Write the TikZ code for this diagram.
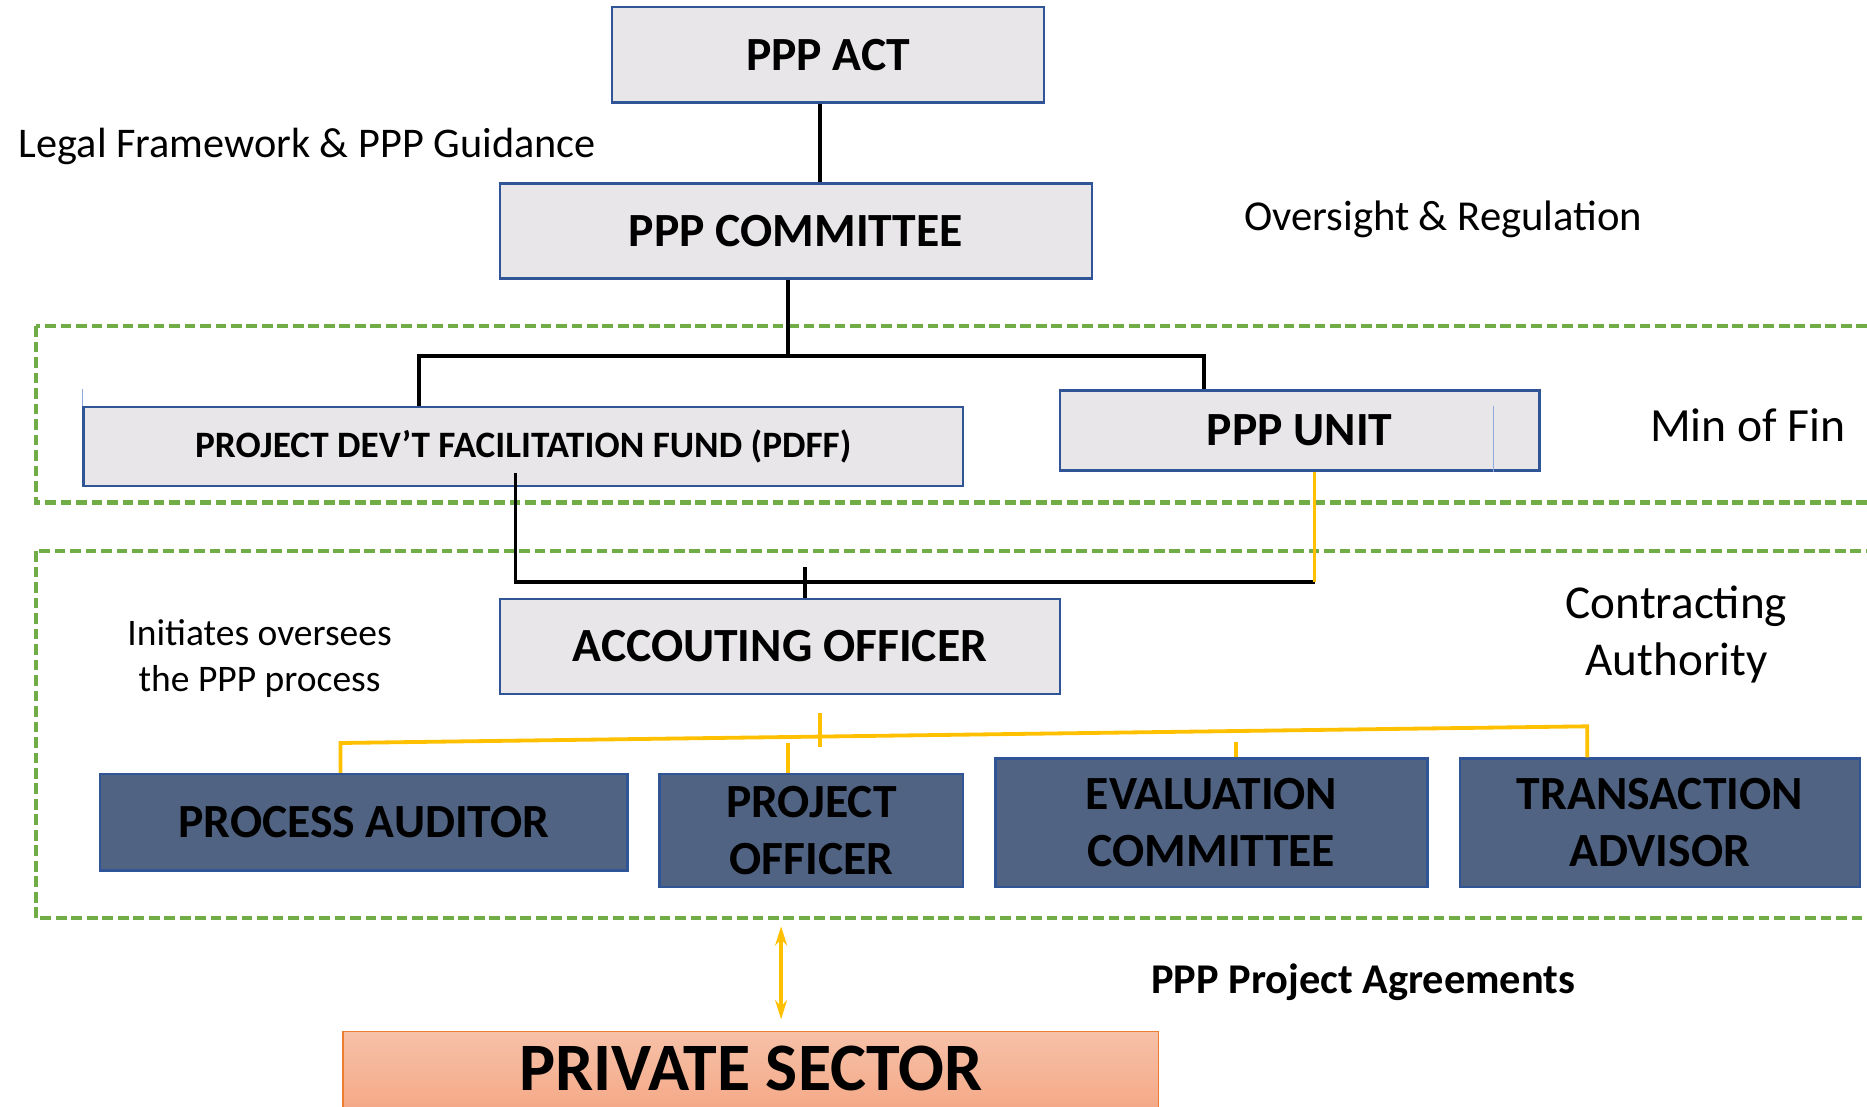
\documentclass[tikz,border=0pt]{standalone}
\usepackage{fontspec}
\setmainfont{Carlito}
\usetikzlibrary{arrows.meta,calc}
\definecolor{boxblue}{HTML}{2F5597}
\definecolor{boxgray}{HTML}{E8E6E8}
\definecolor{darkbox}{HTML}{506383}
\definecolor{ggreen}{HTML}{70AD47}
\definecolor{yel}{HTML}{FFC000}
\definecolor{ptop}{HTML}{F6C1A8}
\definecolor{pbot}{HTML}{F4A582}
\definecolor{porange}{HTML}{ED7D31}
\definecolor{thinblue}{HTML}{8FAADC}
\tikzset{
  graybox/.style={draw=boxblue, line width=2pt, fill=boxgray, inner sep=0pt, align=center, font=\bfseries\fontsize{40}{48}\selectfont},
  darkbx/.style={draw=boxblue, line width=2pt, fill=darkbox, inner sep=0pt, align=center, font=\bfseries\fontsize{40}{48}\selectfont},
  gdash/.style={draw=ggreen, line width=3.6pt, dash pattern=on 9pt off 4pt},
  conn/.style={draw=black, line width=3.2pt},
  yconn/.style={draw=yel, line width=3.2pt},
  lbl/.style={inner sep=0pt, align=center}
}
\begin{document}
\begin{tikzpicture}[x=1pt,y=-1pt]
\useasboundingbox (0,0) rectangle (1568,929);
\clip (0,0) rectangle (1568,929);
\fill[white] (0,0) rectangle (1568,929);
% dashed group frames
\draw[gdash] (30,274) rectangle (1600,422);
\draw[gdash] (30,463) rectangle (1600,771);
% boxes
\node[graybox, minimum width=363pt, minimum height=80pt] (act) at (695.5,46) {PPP ACT};
\node[graybox, minimum width=497pt, minimum height=80pt] (comm) at (668.5,194) {PPP COMMITTEE};
\node[graybox, minimum width=739pt, minimum height=66pt, font=\bfseries\fontsize{31.3}{36}\selectfont] (pdff) at (439.5,375) {PROJECT DEV’T FACILITATION FUND (PDFF)};
\node[graybox, minimum width=403pt, minimum height=67pt] (unit) at (1091.5,361.5) {PPP UNIT};
\node[graybox, minimum width=470pt, minimum height=80pt] (acc) at (655,543) {ACCOUTING OFFICER};
\node[darkbx, minimum width=443pt, minimum height=81pt] (aud) at (305.5,690.5) {PROCESS AUDITOR};
\node[darkbx, minimum width=255pt, minimum height=95pt] (po) at (681.5,697.5) {PROJECT\\OFFICER};
\node[darkbx, minimum width=363pt, minimum height=108pt] (eval) at (1017.5,691) {EVALUATION\\COMMITTEE};
\node[darkbx, minimum width=336pt, minimum height=108pt] (ta) at (1394,691) {TRANSACTION\\ADVISOR};
\path[draw=porange, line width=1pt, top color=ptop, bottom color=pbot] (288,866) rectangle (973,942);
\node[lbl, font=\bfseries\fontsize{57}{64}\selectfont] (priv) at (630.5,897) {PRIVATE SECTOR};
% small thin marks
\draw[thinblue, line width=0.8pt] (pdff.north west) -- ++(0,-14);
\draw[thinblue, line width=0.8pt] ([xshift=-40pt,yshift=-14pt]unit.north east) -- ([xshift=-40pt]unit.south east);
% text labels
\node[lbl, font=\fontsize{35.5}{42}\selectfont] (legal) at (258,123) {Legal Framework \& PPP Guidance};
\node[lbl, font=\fontsize{35.8}{42}\selectfont] (over) at (1212,184) {Oversight \& Regulation};
\node[lbl, font=\fontsize{40}{48}\selectfont] (minfin) at (1468,357) {Min of Fin};
\node[lbl, font=\fontsize{39.6}{48}\selectfont] (contr) at (1408,533) {Contracting\\Authority};
\node[lbl, font=\fontsize{31.5}{38}\selectfont] (init) at (218,553) {Initiates oversees\\the PPP process};
\node[lbl, font=\bfseries\fontsize{35.6}{42}\selectfont] (agr) at (1145,825) {PPP Project Agreements};
% connectors
\draw[conn] ([xshift=-6.5pt]act.south) -- ([xshift=-6.5pt]act.south |- comm.north);
\coordinate (b1) at (662,300);
\draw[conn] ([xshift=-6.5pt]comm.south) -- (b1);
\draw[conn] ([xshift=-87.5pt]pdff.north) -- ++(0,-42) -| ([xshift=-80.5pt]unit.north);
\coordinate (j2) at (1104,489);
\draw[conn] ([xshift=-6.5pt,yshift=12pt]pdff.south) |- (j2);
\draw[yconn, line width=2.4pt] (j2) -- (j2 |- unit.south);
\draw[conn] ([xshift=21pt]acc.north) -- ++(0,-26);
\coordinate (yl) at (286,624);
\coordinate (yr) at (1333,610);
\draw[yconn] ([xshift=-19.5pt]aud.north) -- (yl) -- (yr) -- ([xshift=-61pt]ta.north);
\draw[yconn] ([xshift=34pt,yshift=-15pt]acc.south) -- ++(0,28);
\draw[yconn] ([xshift=-19.5pt]po.north) -- ++(0,-25);
\draw[yconn] ([xshift=20.5pt]eval.north) -- ++(0,-13);
\coordinate (arrbot) at (656,856);
\draw[yconn, line width=2.8pt, {Stealth[length=16pt,width=10pt]}-{Stealth[length=16pt,width=10pt]}] (arrbot) -- ++(0,-78);
\end{tikzpicture}
\end{document}
